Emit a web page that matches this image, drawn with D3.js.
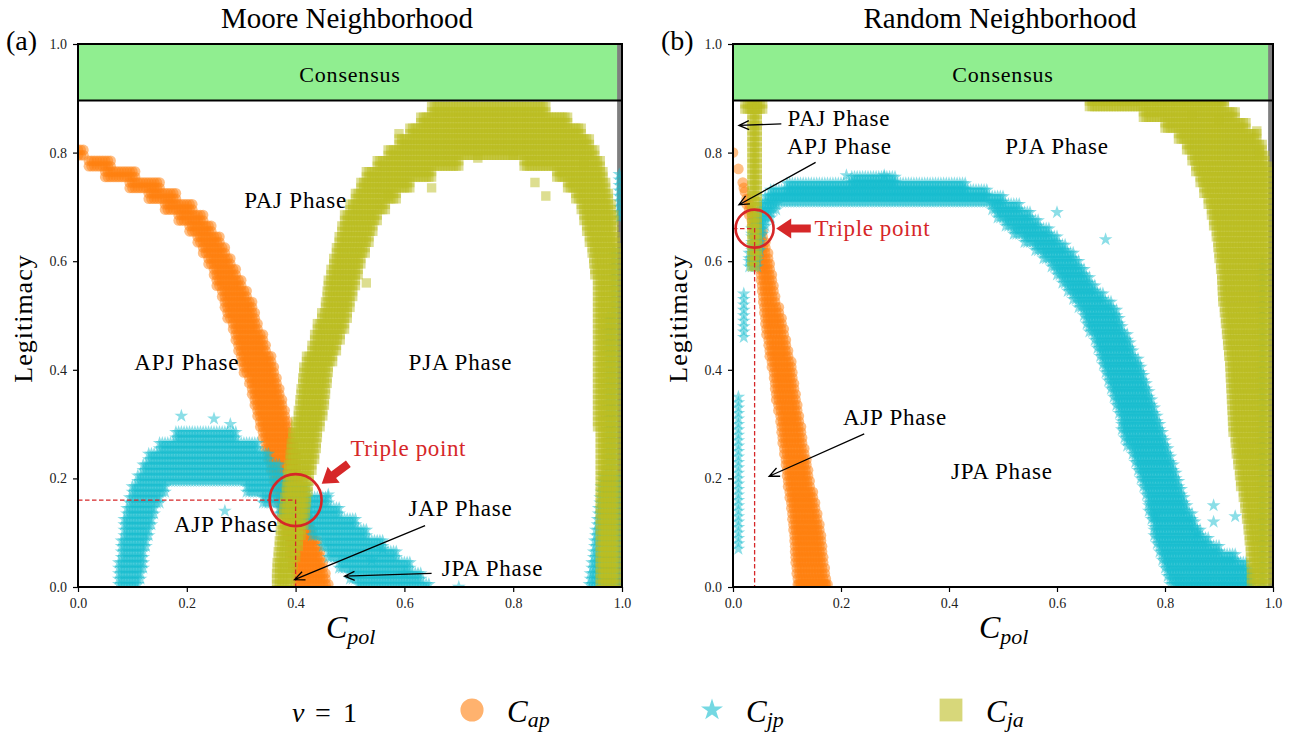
<!DOCTYPE html>
<html>
<head>
<meta charset="utf-8">
<script src="https://cdn.jsdelivr.net/npm/d3@7"></script>
<style>
  body { margin: 0; background: #fff; }
  svg { display: block; }
  text { font-family: "Liberation Serif", "Times New Roman", serif; }
</style>
</head>
<body>
<svg id="chart" width="1298" height="732"></svg>
<script>
// ---------------------------------------------------------------
// Phase-boundary data (C_pol vs Legitimacy), v = 1.
// Rows: [legitimacy, C_pol from, C_pol to]; each row stands for the
// simulation grid cells between the two C_pol ends.
// Cols: [C_pol, legitimacy from, legitimacy to].
// ---------------------------------------------------------------

// Moore neighborhood
const apRowsMoore = [
  [0.80,0.000,0.010],[0.78,0.020,0.060],[0.76,0.050,0.105],[0.74,0.095,0.150],
  [0.72,0.130,0.180],[0.70,0.160,0.210],[0.68,0.185,0.230],[0.66,0.205,0.245],
  [0.64,0.220,0.260],[0.62,0.230,0.270],[0.60,0.240,0.280],[0.58,0.250,0.290],
  [0.56,0.255,0.300],[0.54,0.265,0.310],[0.52,0.270,0.320],[0.50,0.275,0.325],
  [0.48,0.285,0.330],[0.46,0.290,0.340],[0.44,0.295,0.345],[0.42,0.300,0.355],
  [0.40,0.305,0.360],[0.38,0.315,0.365],[0.36,0.320,0.370],[0.34,0.325,0.375],
  [0.32,0.330,0.380],[0.30,0.335,0.385],[0.28,0.340,0.390],[0.26,0.345,0.395],
  [0.24,0.350,0.400],[0.22,0.355,0.400],[0.20,0.360,0.405],[0.18,0.365,0.410],
  [0.16,0.370,0.415],[0.14,0.375,0.420],[0.12,0.380,0.425],[0.10,0.385,0.430],
  [0.08,0.390,0.440],[0.06,0.390,0.445],[0.04,0.395,0.450],[0.02,0.400,0.455],
  [0.00,0.400,0.460]
];
const jpRowsMoore = [
  [0.28,0.180,0.290],[0.26,0.150,0.330],[0.24,0.130,0.350],[0.22,0.120,0.370],
  [0.20,0.110,0.390],
  [0.18,0.100,0.160],[0.18,0.310,0.420],
  [0.16,0.095,0.150],[0.16,0.340,0.460],
  [0.14,0.090,0.140],[0.14,0.370,0.480],
  [0.12,0.085,0.135],[0.12,0.410,0.510],
  [0.10,0.085,0.130],[0.10,0.430,0.530],
  [0.08,0.080,0.125],[0.08,0.450,0.560],
  [0.06,0.080,0.120],[0.06,0.460,0.585],
  [0.04,0.075,0.120],[0.04,0.480,0.610],
  [0.02,0.075,0.115],[0.02,0.500,0.630],
  [0.00,0.075,0.110],[0.00,0.515,0.645],
  [0.00,0.940,0.990],[0.02,0.942,0.990],[0.04,0.945,0.990],[0.06,0.948,0.990],
  [0.08,0.950,0.990],[0.10,0.952,0.990],[0.12,0.955,0.990],[0.14,0.957,0.990],
  [0.16,0.960,0.990],[0.18,0.962,0.990],[0.20,0.965,0.990]
];
const jpColsMoore = [[0.975,0.22,0.50],[0.985,0.22,0.62],[0.995,0.68,0.76]];
const jpExtraMoore = [[0.19,0.315],[0.25,0.31],[0.28,0.30],[0.27,0.14],[0.46,0.17],[0.70,0.00],[0.56,0.07],[0.54,0.05],[0.60,0.025]];
const jaRowsMoore = [
  [0.00,0.365,0.390],[0.02,0.365,0.392],[0.04,0.366,0.395],[0.06,0.368,0.400],
  [0.08,0.370,0.405],[0.10,0.372,0.410],[0.12,0.375,0.415],[0.14,0.378,0.418],
  [0.16,0.380,0.420],[0.18,0.383,0.423],[0.20,0.385,0.425],[0.22,0.387,0.430],
  [0.24,0.390,0.435],[0.26,0.392,0.438],[0.28,0.395,0.440],[0.30,0.400,0.445],
  [0.32,0.405,0.450],[0.34,0.408,0.453],[0.36,0.410,0.455],[0.38,0.413,0.458],
  [0.40,0.415,0.460],[0.42,0.420,0.468],[0.44,0.430,0.475],[0.46,0.435,0.482],
  [0.48,0.440,0.490],[0.50,0.448,0.495],[0.52,0.455,0.500],[0.54,0.458,0.505],
  [0.56,0.460,0.510],[0.58,0.465,0.515],[0.60,0.470,0.520],[0.62,0.475,0.528],
  [0.64,0.480,0.535],[0.66,0.485,0.542],[0.68,0.490,0.550],[0.70,0.500,0.565],
  [0.72,0.510,0.585],[0.74,0.520,0.610],[0.76,0.530,0.650],
  [0.78,0.550,0.700],[0.78,0.820,0.960],
  [0.80,0.570,0.950],[0.82,0.590,0.940],[0.84,0.610,0.925],[0.86,0.630,0.900],
  [0.88,0.650,0.860],
  [0.76,0.880,0.965],[0.74,0.900,0.970],[0.72,0.915,0.975],[0.70,0.925,0.980],
  [0.68,0.930,0.985],[0.66,0.935,0.985],[0.64,0.940,0.988],[0.62,0.945,0.990],
  [0.60,0.948,0.990],[0.58,0.950,0.990],[0.56,0.955,0.990],[0.54,0.955,0.990],
  [0.52,0.955,0.990],[0.50,0.955,0.990],[0.48,0.955,0.990],[0.46,0.955,0.990],
  [0.44,0.955,0.990],[0.42,0.955,0.990],[0.40,0.955,0.990],[0.38,0.955,0.990],
  [0.36,0.955,0.990],[0.34,0.955,0.990],[0.32,0.955,0.990],[0.30,0.955,0.990],
  [0.28,0.960,0.990],[0.26,0.960,0.990],[0.24,0.960,0.990],[0.22,0.960,0.990],
  [0.20,0.960,0.990],[0.18,0.960,0.990],[0.16,0.960,0.990],[0.14,0.960,0.990],
  [0.12,0.960,0.990],[0.10,0.960,0.990],[0.08,0.960,0.990],[0.06,0.960,0.990],
  [0.04,0.960,0.990],[0.02,0.960,0.990],[0.00,0.960,0.990]
];
const jaExtraMoore = [[0.59,0.835],[0.735,0.79],[0.80,0.795],[0.84,0.745],[0.93,0.78],[0.65,0.735],[0.57,0.72],[0.53,0.56],[0.86,0.72]];

// Random neighborhood
const apRowsRandom = [
  [0.71,0.025,0.030],[0.69,0.030,0.035],[0.67,0.035,0.045],[0.65,0.040,0.055],
  [0.63,0.045,0.060],[0.61,0.048,0.065],[0.59,0.050,0.068],[0.57,0.052,0.072],
  [0.55,0.054,0.075],[0.53,0.056,0.078],[0.51,0.058,0.085],[0.49,0.060,0.090],
  [0.47,0.062,0.094],[0.45,0.066,0.098],[0.43,0.068,0.102],[0.41,0.072,0.108],
  [0.39,0.076,0.110],[0.37,0.078,0.113],[0.35,0.080,0.116],[0.33,0.084,0.119],
  [0.31,0.088,0.122],[0.29,0.090,0.126],[0.27,0.092,0.128],[0.25,0.095,0.132],
  [0.23,0.098,0.136],[0.21,0.100,0.139],[0.19,0.102,0.142],[0.17,0.105,0.148],
  [0.15,0.108,0.152],[0.13,0.110,0.156],[0.11,0.112,0.160],[0.09,0.114,0.163],
  [0.07,0.115,0.165],[0.05,0.116,0.167],[0.03,0.118,0.170],[0.01,0.120,0.172],
  [0.00,0.122,0.175]
];
const apExtraRandom = [[0.000,0.800],[0.010,0.770],[0.018,0.745],[0.020,0.735],[0.022,0.728]];
const jpRowsRandom = [
  [0.750,0.220,0.300],[0.738,0.100,0.430],[0.726,0.070,0.470],[0.714,0.060,0.500],
  [0.700,0.050,0.080],[0.700,0.480,0.530],
  [0.685,0.045,0.070],[0.685,0.490,0.550],
  [0.670,0.040,0.060],[0.670,0.505,0.565],
  [0.655,0.035,0.055],[0.655,0.520,0.585],
  [0.640,0.035,0.050],[0.640,0.540,0.600],
  [0.625,0.035,0.050],[0.625,0.560,0.615],
  [0.610,0.030,0.045],[0.610,0.575,0.630],
  [0.595,0.030,0.045],[0.595,0.590,0.640],
  [0.580,0.600,0.650],[0.565,0.610,0.660],[0.550,0.620,0.670],[0.535,0.630,0.685],
  [0.520,0.640,0.700],[0.505,0.650,0.710],[0.490,0.655,0.715],[0.475,0.660,0.720],
  [0.460,0.670,0.730],[0.445,0.675,0.735],[0.430,0.680,0.740],[0.415,0.685,0.750],
  [0.400,0.690,0.755],[0.385,0.695,0.760],[0.370,0.700,0.765],[0.355,0.705,0.770],
  [0.340,0.710,0.775],[0.325,0.715,0.780],[0.310,0.720,0.785],[0.295,0.720,0.790],
  [0.280,0.725,0.795],[0.265,0.730,0.800],[0.250,0.740,0.805],[0.235,0.745,0.810],
  [0.220,0.750,0.815],[0.205,0.755,0.820],[0.190,0.760,0.825],[0.175,0.765,0.830],
  [0.160,0.770,0.835],[0.145,0.770,0.840],[0.130,0.775,0.850],[0.115,0.780,0.855],
  [0.100,0.780,0.865],[0.085,0.785,0.880],[0.070,0.790,0.900],[0.055,0.795,0.930],
  [0.040,0.800,0.950],[0.025,0.805,0.960],[0.010,0.810,0.960],[0.000,0.820,0.960]
];
const jpColsRandom = [[0.010,0.07,0.35],[0.020,0.46,0.54],[0.980,0.00,0.60]];
const jpExtraRandom = [[0.69,0.64],[0.60,0.69],[0.89,0.12],[0.89,0.15],[0.78,0.13],[0.86,0.10],[0.93,0.13],[0.21,0.758],[0.28,0.758]];
const jaRowsRandom = [
  [0.885,0.022,0.055],
  [0.89,0.660,0.910],[0.87,0.760,0.930],[0.85,0.800,0.950],[0.83,0.825,0.970],
  [0.81,0.840,0.980],[0.79,0.850,0.985],[0.77,0.857,0.990],[0.75,0.865,0.990],
  [0.73,0.872,0.990],[0.71,0.880,0.990],[0.69,0.886,0.990],[0.67,0.890,0.990],
  [0.65,0.895,0.990],[0.63,0.898,0.990],[0.61,0.900,0.990],[0.59,0.903,0.990],
  [0.57,0.905,0.990],[0.55,0.906,0.990],[0.53,0.907,0.990],[0.51,0.910,0.990],
  [0.49,0.912,0.990],[0.47,0.914,0.990],[0.45,0.916,0.990],[0.43,0.918,0.990],
  [0.41,0.920,0.990],[0.39,0.921,0.990],[0.37,0.922,0.990],[0.35,0.923,0.990],
  [0.33,0.924,0.990],[0.31,0.925,0.990],[0.29,0.926,0.990],[0.27,0.930,0.990],
  [0.25,0.932,0.990],[0.23,0.935,0.990],[0.21,0.938,0.990],[0.19,0.940,0.990],
  [0.17,0.945,0.990],[0.15,0.948,0.990],[0.13,0.951,0.990],[0.11,0.954,0.990],
  [0.09,0.956,0.990],[0.07,0.958,0.990],[0.05,0.959,0.990],[0.03,0.960,0.990],
  [0.01,0.960,0.990]
];
const jaColsRandom = [[0.035,0.59,0.89],[0.040,0.59,0.89],[0.045,0.61,0.89]];
const jaExtraRandom = [[0.97,0.84],[0.975,0.80],[0.90,0.86],[0.85,0.87]];

const xTicks = [0.0, 0.2, 0.4, 0.6, 0.8, 1.0];
const yTicks = [0.0, 0.2, 0.4, 0.6, 0.8, 1.0];
const consensusFrom = 0.896;

// ---------------------------------------------------------------
const COLORS = { ap: "#ff7f0e", jp: "#17becf", ja: "#bcbd22" };
const RED = "#d62728";
const C_POL_STEP = 0.005;     // C_pol grid of the simulation
const LEG_STEP = 0.01;        // legitimacy grid of the simulation
const ROW_CELLS = [-0.005, 0.005];

function expandRows(rows) {
  const pts = [];
  rows.forEach(([yv, x0, x1]) => {
    const n = Math.round((x1 - x0) / C_POL_STEP);
    ROW_CELLS.forEach(o => {
      for (let i = 0; i <= n; i++) pts.push([n ? x0 + i * (x1 - x0) / n : x0, yv + o]);
    });
  });
  return pts;
}
function expandCols(cols) {
  const pts = [];
  cols.forEach(([xv, y0, y1]) => {
    const n = Math.round((y1 - y0) / LEG_STEP);
    for (let i = 0; i <= n; i++) pts.push([xv, n ? y0 + i * (y1 - y0) / n : y0]);
  });
  return pts;
}

const panels = [
  {
    id: "moore", left: 78, right: 622, tag: "(a)", title: "Moore Neighborhood",
    ap: expandRows(apRowsMoore),
    jp: expandRows(jpRowsMoore).concat(expandCols(jpColsMoore), jpExtraMoore),
    ja: expandRows(jaRowsMoore).concat(jaExtraMoore),
    labels: [
      ["PAJ Phase", 0.400, 0.712], ["APJ Phase", 0.200, 0.414], ["PJA Phase", 0.703, 0.414],
      ["AJP Phase", 0.272, 0.116], ["JAP Phase", 0.703, 0.144], ["JPA Phase", 0.762, 0.034]
    ],
    arrows: [[0.638, 0.113, 0.398, 0.0135], [0.650, 0.025, 0.490, 0.020]],
    triple: { x: 0.40, y: 0.16, r: 26, text: [0.607, 0.255], arrow: [0.497, 0.227, 0.448, 0.190] }
  },
  {
    id: "random", left: 733, right: 1273, tag: "(b)", title: "Random Neighborhood",
    ap: expandRows(apRowsRandom).concat(apExtraRandom),
    jp: expandRows(jpRowsRandom).concat(expandCols(jpColsRandom), jpExtraRandom),
    ja: expandRows(jaRowsRandom).concat(expandCols(jaColsRandom), jaExtraRandom),
    labels: [
      ["PAJ Phase", 0.196, 0.862], ["APJ Phase", 0.197, 0.812], ["PJA Phase", 0.600, 0.812],
      ["AJP Phase", 0.300, 0.313], ["JPA Phase", 0.498, 0.212]
    ],
    arrows: [[0.0895, 0.853, 0.011, 0.850], [0.153, 0.782, 0.011, 0.704], [0.243, 0.282, 0.067, 0.204]],
    triple: { x: 0.04, y: 0.66, r: 19, text: [0.258, 0.661], arrow: [0.144, 0.660, 0.080, 0.660] }
  }
];

const TOP = 44, BOTTOM = 587;
const svg = d3.select("#chart");
const defs = svg.append("defs");

const symCircle = d3.symbol().type(d3.symbolCircle).size(88);
const symStar = d3.symbol().type(d3.symbolStar).size(58);
const symSquare = d3.symbol().type(d3.symbolSquare).size(88);

function thinArrow(g, x1, y1, x2, y2) {
  const a = Math.atan2(y2 - y1, x2 - x1), L = 11, h = 0.42;
  const p1 = [x2 - L * Math.cos(a - h), y2 - L * Math.sin(a - h)];
  const p2 = [x2 - L * Math.cos(a + h), y2 - L * Math.sin(a + h)];
  g.append("path")
    .attr("d", `M${x1},${y1}L${x2},${y2}M${p1[0]},${p1[1]}L${x2},${y2}L${p2[0]},${p2[1]}`)
    .attr("fill", "none").attr("stroke", "#000").attr("stroke-width", 1.3);
}
function fatArrow(g, x1, y1, x2, y2) {
  const dx = x2 - x1, dy = y2 - y1, len = Math.hypot(dx, dy);
  const ux = dx / len, uy = dy / len, nx = -uy, ny = ux;
  const headL = 15, headW = 10, shaftW = 4;
  const bx = x2 - ux * headL, by = y2 - uy * headL;
  const pts = [
    [x1 + nx * shaftW, y1 + ny * shaftW], [bx + nx * shaftW, by + ny * shaftW],
    [bx + nx * headW, by + ny * headW], [x2, y2],
    [bx - nx * headW, by - ny * headW], [bx - nx * shaftW, by - ny * shaftW],
    [x1 - nx * shaftW, y1 - ny * shaftW]
  ];
  g.append("path").attr("d", "M" + pts.map(p => p.join(",")).join("L") + "Z").attr("fill", RED);
}

panels.forEach(p => {
  const x = d3.scaleLinear().domain([0, 1]).range([p.left, p.right]);
  const y = d3.scaleLinear().domain([0, 1]).range([BOTTOM, TOP]);
  const g = svg.append("g").attr("class", "panel-" + p.id);

  defs.append("clipPath").attr("id", "clip-" + p.id)
    .append("rect").attr("x", x(0)).attr("y", y(consensusFrom))
    .attr("width", x(1) - x(0)).attr("height", y(0) - y(consensusFrom));

  // consensus band and the C_pol = 1 strip
  g.append("rect").attr("x", x(0)).attr("y", y(1)).attr("width", x(1) - x(0))
    .attr("height", y(consensusFrom) - y(1)).attr("fill", "#90ee90");
  g.append("rect").attr("x", x(0.991)).attr("y", y(1)).attr("width", x(1) - x(0.991))
    .attr("height", y(0) - y(1)).attr("fill", "#7f7f7f");

  const pts = g.append("g").attr("clip-path", `url(#clip-${p.id})`);
  pts.append("g").selectAll("path").data(p.ap).join("path")
    .attr("d", symCircle).attr("transform", d => `translate(${x(d[0])},${y(d[1])})`)
    .attr("fill", COLORS.ap).attr("fill-opacity", 0.5);
  pts.append("g").selectAll("path").data(p.jp).join("path")
    .attr("d", symStar).attr("transform", d => `translate(${x(d[0])},${y(d[1])})`)
    .attr("fill", COLORS.jp).attr("fill-opacity", 0.5);
  pts.append("g").selectAll("path").data(p.ja).join("path")
    .attr("d", symSquare).attr("transform", d => `translate(${x(d[0])},${y(d[1])})`)
    .attr("fill", COLORS.ja).attr("fill-opacity", 0.5);

  g.append("line").attr("x1", x(0)).attr("x2", x(1))
    .attr("y1", y(consensusFrom)).attr("y2", y(consensusFrom))
    .attr("stroke", "#000").attr("stroke-width", 2);
  g.append("text").attr("x", x(0.5)).attr("y", y(0.943))
    .attr("text-anchor", "middle").attr("dominant-baseline", "central")
    .attr("font-size", 22).attr("letter-spacing", 0.8).text("Consensus");

  // triple point markers
  const t = p.triple;
  g.append("path")
    .attr("d", `M${x(0)},${y(t.y)}L${x(t.x)},${y(t.y)}L${x(t.x)},${y(0)}`)
    .attr("fill", "none").attr("stroke", RED).attr("stroke-width", 1.3)
    .attr("stroke-dasharray", "4.5,2.5");
  g.append("circle").attr("cx", x(t.x)).attr("cy", y(t.y)).attr("r", t.r)
    .attr("fill", "none").attr("stroke", RED).attr("stroke-width", 2.6);
  fatArrow(g, x(t.arrow[0]), y(t.arrow[1]), x(t.arrow[2]), y(t.arrow[3]));
  g.append("text").attr("x", x(t.text[0])).attr("y", y(t.text[1]))
    .attr("text-anchor", "middle").attr("dominant-baseline", "central")
    .attr("font-size", 23).attr("letter-spacing", 0.6).attr("fill", RED).text("Triple point");

  // phase labels and pointers
  p.labels.forEach(([s, lx, ly]) => {
    g.append("text").attr("x", x(lx)).attr("y", y(ly))
      .attr("text-anchor", "middle").attr("dominant-baseline", "central")
      .attr("font-size", 23).attr("letter-spacing", 0.8).text(s);
  });
  p.arrows.forEach(a => thinArrow(g, x(a[0]), y(a[1]), x(a[2]), y(a[3])));

  // axes
  const ax = g.append("g").attr("transform", `translate(0,${BOTTOM})`)
    .call(d3.axisBottom(x).tickValues(xTicks).tickFormat(d3.format(".1f")).tickSize(5).tickPadding(6));
  const ay = g.append("g").attr("transform", `translate(${p.left},0)`)
    .call(d3.axisLeft(y).tickValues(yTicks).tickFormat(d3.format(".1f")).tickSize(5).tickPadding(6));
  [ax, ay].forEach(a => {
    a.select(".domain").remove();
    a.selectAll(".tick line").attr("stroke", "#000").attr("stroke-width", 1.2);
    a.selectAll(".tick text").attr("font-family", '"Liberation Serif", serif')
      .attr("font-size", 14).attr("fill", "#222");
  });
  g.append("rect").attr("x", x(0)).attr("y", y(1)).attr("width", x(1) - x(0))
    .attr("height", y(0) - y(1)).attr("fill", "none").attr("stroke", "#000").attr("stroke-width", 2);

  // titles and axis labels
  const cx = (p.left + p.right) / 2;
  g.append("text").attr("x", cx - 3).attr("y", 28).attr("text-anchor", "middle")
    .attr("font-size", 29).text(p.title);
  g.append("text").attr("x", p.left - 72).attr("y", 50).attr("font-size", 28).text(p.tag);
  g.append("text").attr("transform", `translate(${p.left - 46},${(TOP + BOTTOM) / 2 + 3}) rotate(-90)`)
    .attr("text-anchor", "middle").attr("font-size", 26).attr("letter-spacing", 1).text("Legitimacy");
  const xl = g.append("text").attr("x", cx - 24).attr("y", 638).attr("font-style", "italic");
  xl.append("tspan").attr("font-size", 32).text("C");
  xl.append("tspan").attr("font-size", 22).attr("dy", 6).text("pol");
});

// legend
const leg = svg.append("g").attr("class", "legend");
leg.append("text").attr("x", 292).attr("y", 722).attr("font-size", 28).attr("font-style", "italic").text("v");
leg.append("text").attr("x", 315).attr("y", 722).attr("font-size", 28).text("=");
leg.append("text").attr("x", 343).attr("y", 722).attr("font-size", 28).text("1");
const legendItems = [
  { sym: d3.symbolCircle, size: 420, color: COLORS.ap, cx: 472, sub: "ap", tx: 507 },
  { sym: d3.symbolStar, size: 150, color: COLORS.jp, cx: 712, sub: "jp", tx: 746 },
  { sym: d3.symbolSquare, size: 520, color: COLORS.ja, cx: 951, sub: "ja", tx: 986 }
];
legendItems.forEach(it => {
  leg.append("path").attr("d", d3.symbol().type(it.sym).size(it.size)())
    .attr("transform", `translate(${it.cx},710)`).attr("fill", it.color).attr("fill-opacity", 0.6);
  const t = leg.append("text").attr("x", it.tx).attr("y", 722).attr("font-style", "italic");
  t.append("tspan").attr("font-size", 31).text("C");
  t.append("tspan").attr("font-size", 22).attr("dy", 5).text(it.sub);
});
</script>
</body>
</html>
